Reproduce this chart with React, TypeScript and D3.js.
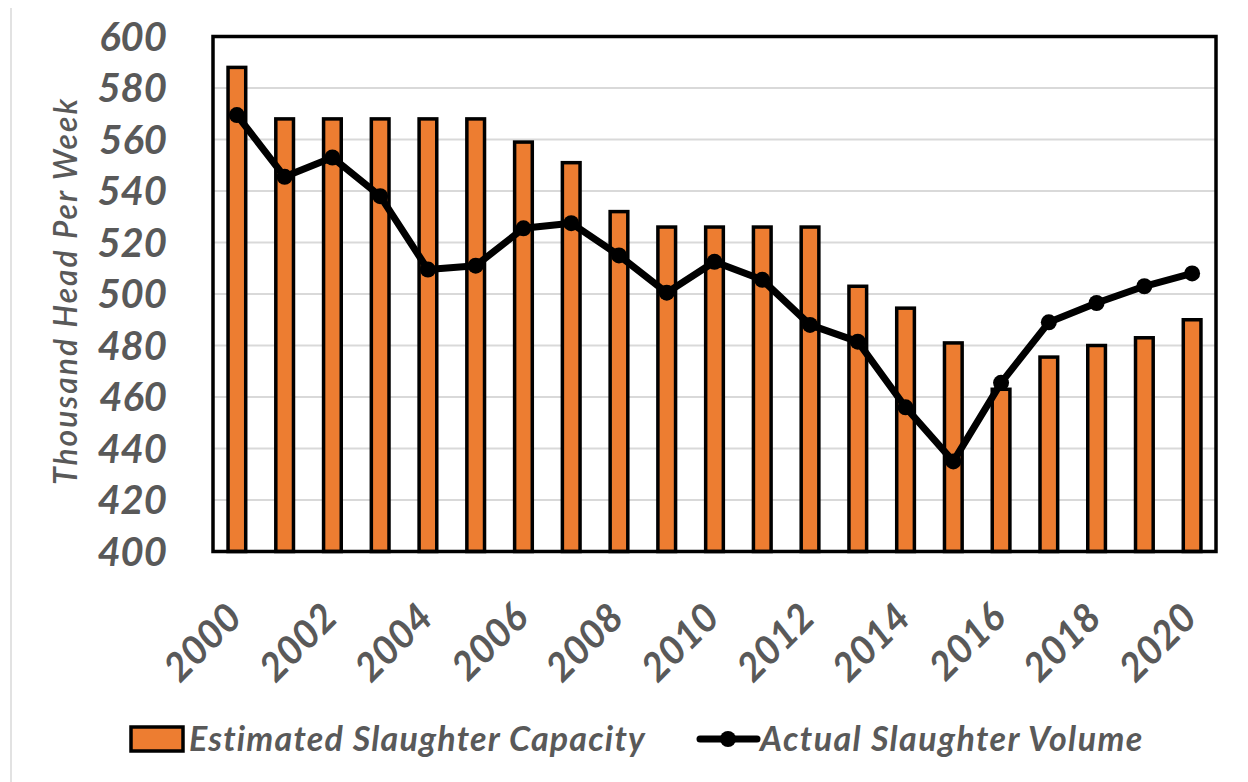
import React from "react";
import * as d3 from "d3";

const years = [2000,2001,2002,2003,2004,2005,2006,2007,2008,2009,2010,2011,2012,2013,2014,2015,2016,2017,2018,2019,2020];
const capacity = [588,568,568,568,568,568,559,551,532,526,526,526,526,503,494.5,481,463,475.5,480,483,490];
const volume = [569.5,545.5,553,538,509.5,511,525.5,527.5,515,500.5,512.5,505.5,488,481.5,456,435,465.5,489,496.5,503,508];
const yTicks = [400,420,440,460,480,500,520,540,560,580,600];
const xTickLabels = ["2000","2002","2004","2006","2008","2010","2012","2014","2016","2018","2020"];

const W = 1248, H = 782;
const left = 213, right = 1216, top = 36.5, bottom = 551.5;
const FONT = "Lato, 'Open Sans', sans-serif";
const GRAY = "#595959";
const ORANGE = "#ED7D31";

export default function App() {
  const x = d3.scaleBand<string>().domain(years.map(String)).range([left, right]).paddingInner(0).paddingOuter(0);
  const y = d3.scaleLinear().domain([400, 600]).range([bottom, top]);
  const bw = x.bandwidth() * 0.37;
  const cx = (yr: number) => (x(String(yr)) as number) + x.bandwidth() / 2;
  const line = d3.line<number>().x((_, i) => cx(years[i])).y((v) => y(v));

  return (
    <svg width={W} height={H} style={{ position: "absolute", left: 0, top: 0, background: "#fff" }}>
      <line x1={11} x2={11} y1={8} y2={H} stroke="#d9d9d9" strokeWidth={1.5} />
      {yTicks.map((t) => (
        <line key={"g" + t} x1={left} x2={right} y1={y(t)} y2={y(t)} stroke="#d9d9d9" strokeWidth={2} />
      ))}
      {years.map((yr, i) => (
        <rect key={"b" + yr} x={cx(yr) - bw / 2} y={y(capacity[i])} width={bw} height={bottom - y(capacity[i])}
          fill={ORANGE} stroke="#000" strokeWidth={3.5} />
      ))}
      <rect x={left} y={top} width={right - left} height={bottom - top} fill="none" stroke="#000" strokeWidth={3.5} />
      <path d={line(volume) || ""} fill="none" stroke="#000" strokeWidth={7} strokeLinejoin="round" />
      {years.map((yr, i) => (
        <circle key={"c" + yr} cx={cx(yr)} cy={y(volume[i])} r={8} fill="#000" />
      ))}
      {yTicks.map((t) => (
        <text key={"t" + t} x={167} y={y(t)} dy="0.36em" textAnchor="end" fontFamily={FONT} fontWeight={700}
          fontStyle="italic" fontSize={40} fill={GRAY}>{t}</text>
      ))}
      {xTickLabels.map((lab) => (
        <text key={"x" + lab} transform={`translate(${cx(+lab) + 7},620) rotate(-45)`} textAnchor="end"
          fontFamily={FONT} fontWeight={700} fontStyle="italic" fontSize={39} fill={GRAY}>{lab}</text>
      ))}
      <text transform={`translate(77,291) rotate(-90)`} textAnchor="middle" fontFamily={FONT} fontWeight={600}
        fontStyle="italic" fontSize={32} letterSpacing={2} fill={GRAY}>Thousand Head Per Week</text>
      <rect x={131} y={727} width={52} height={24} fill={ORANGE} stroke="#000" strokeWidth={3.5} />
      <text x={189} y={751} fontFamily={FONT} fontWeight={700} fontStyle="italic" fontSize={34} letterSpacing={1.2} fill={GRAY}>Estimated Slaughter Capacity</text>
      <line x1={700} x2={757} y1={739} y2={739} stroke="#000" strokeWidth={7} strokeLinecap="round" />
      <circle cx={728} cy={739} r={8} fill="#000" />
      <text x={760} y={751} fontFamily={FONT} fontWeight={700} fontStyle="italic" fontSize={34} letterSpacing={1.4} fill={GRAY}>Actual Slaughter Volume</text>
    </svg>
  );
}
